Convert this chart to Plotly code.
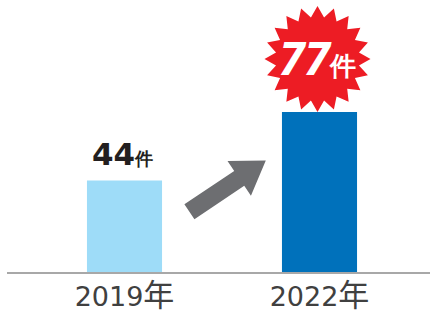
import math
import plotly.graph_objects as go

categories = ["2019年", "2022年"]
values = [44, 77]
value_units = ["件", "件"]
bar_colors = ["#9edcf8", "#0071bb"]

PX_PER_UNIT = 2.078
PLOT_TOP = 0
BASE_PX = 272
W, H = 430, 315

x_idx = list(range(len(categories)))

fig = go.Figure()
fig.add_trace(go.Bar(
    x=x_idx, y=values, width=0.385,
    marker=dict(color=bar_colors, line=dict(width=0)),
    hoverinfo="skip",
))

def star_path(n, R, r, rot=90):
    pts = []
    for i in range(2 * n):
        ang = math.radians(rot + i * 180.0 / n)
        rad = R if i % 2 == 0 else r
        pts.append((rad * math.cos(ang), rad * math.sin(ang)))
    return pts

def to_path(pts, dx=0, dy=0):
    return "M " + " L ".join(f"{x+dx:.2f},{y+dy:.2f}" for x, y in pts) + " Z"

star = star_path(20, 53, 42)
fig.add_shape(type="path", xref="x", yref="y", xsizemode="pixel", ysizemode="pixel",
              xanchor=1, yanchor=values[1], path=to_path(star, -2, 53),
              fillcolor="#ed1c24", line=dict(width=0), layer="above")

# arrow
L, sw, hw, hl = 92, 9, 21, 32
loc = [(0, -sw), (L - hl, -sw), (L - hl, -hw), (L, 0), (L - hl, hw), (L - hl, sw), (0, sw)]
ang = math.atan2(51, 76)
arrow = []
for u, v in loc:
    u2 = u - L / 2
    arrow.append((u2 * math.cos(ang) - v * math.sin(ang), u2 * math.sin(ang) + v * math.cos(ang)))
fig.add_shape(type="path", xref="x", yref="y", xsizemode="pixel", ysizemode="pixel",
              xanchor=0.5, yanchor=0, path=to_path(arrow, 5.6, 85.8),
              fillcolor="#6d6e71", line=dict(width=0), layer="above")

fig.add_annotation(x=0, y=values[0], yref="y", xref="x",
                   text=f"<b>{values[0]}</b><span style='font-size:18px'><b>{value_units[0]}</b></span>",
                   showarrow=False, yanchor="bottom", yshift=7, xshift=-2,
                   font=dict(family="DejaVu Sans", size=31, color="#231f20"))
fig.add_annotation(x=1, y=values[1], yref="y", xref="x",
                   text=f"<b><i>{values[1]}</i></b><span style='font-size:26px'><b>{value_units[1]}</b></span>",
                   showarrow=False, yanchor="middle", yshift=55, xshift=-2,
                   font=dict(family="Noto Sans, DejaVu Sans", size=46, color="#ffffff"))

tick_text = [c[:-1] + f"<span style='font-size:31px'>{c[-1]}</span>" for c in categories]

xmin = (7 - 124.5) / 195
xmax = (430 - 124.5) / 195
fig.update_layout(
    width=W, height=H,
    margin=dict(l=7, r=0, t=PLOT_TOP, b=H - BASE_PX),
    paper_bgcolor="white", plot_bgcolor="white",
    showlegend=False,
    xaxis=dict(range=[xmin, xmax], tickvals=x_idx, ticktext=tick_text,
               showgrid=False, zeroline=False, showline=True, linecolor="#a8a8a8", linewidth=1.5,
               ticks="", tickfont=dict(family="DejaVu Sans, Noto Sans CJK JP", size=27, color="#404040"),
               fixedrange=True),
    yaxis=dict(range=[0, (BASE_PX - PLOT_TOP) / PX_PER_UNIT], visible=False, fixedrange=True),
)
fig.write_html("out.html", config={"displayModeBar": False},
               post_script="document.body.style.margin='0';document.body.style.overflow='hidden';")
